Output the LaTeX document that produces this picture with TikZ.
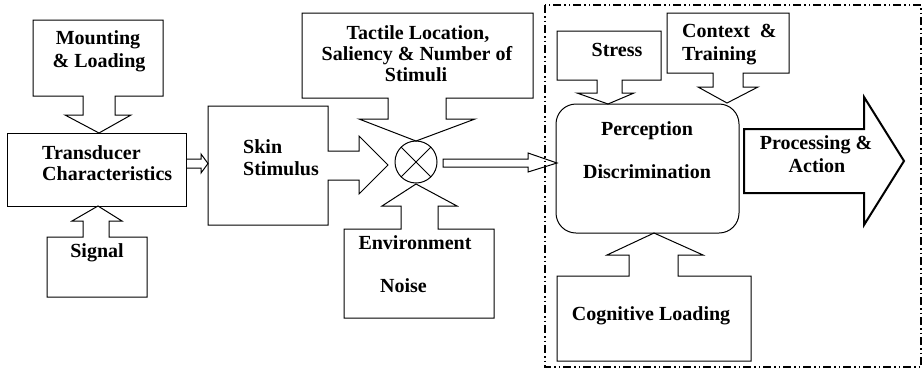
\documentclass[tikz,border=0pt]{standalone}
\usepackage{fontspec}
\setmainfont{Liberation Serif}
\begin{document}
\begin{tikzpicture}[x=1pt,y=-1pt,line join=miter,
  shapeline/.style={draw=black,line width=1pt},
  thickarrow/.style={draw=black,line width=2pt},
  groupbox/.style={draw=black,line width=1.3pt,dash pattern=on 8pt off 3pt on 1.5pt off 3pt on 1.5pt off 3pt},
  lbl/.style={inner sep=0pt,font=\fontsize{20}{22}\selectfont\bfseries}]
\useasboundingbox (0,0) rectangle (923,370);
% Mounting & Loading (down callout)
\draw[shapeline] (33,20) -- (163,20) -- (163,96) -- (115,96) -- (115,115) -- (131,115) -- (99,133) -- (65,115) -- (83,115) -- (83,96) -- (33,96) -- cycle;
\node[lbl,anchor=base] (mount1) at (98,44) {Mounting};
\node[lbl,anchor=base] (mount2) at (99,67) {\& Loading};
% Transducer
\draw[shapeline] (7,133) rectangle (186,206);
\node[lbl,anchor=base west] (trans1) at (42,159) {Transducer};
\node[lbl,anchor=base west] (trans2) at (42,180) {Characteristics};
% Signal (up callout)
\draw[shapeline] (47,237) -- (83,237) -- (83,221) -- (72,221) -- (98,206) -- (122,221) -- (109,221) -- (109,237) -- (147,237) -- (147,297) -- (47,297) -- cycle;
\node[lbl,anchor=base] (signal) at (97,257) {Signal};
% small arrow transducer -> skin
\draw[shapeline] (186,159) -- (201,159) -- (201,154) -- (208,163.5) -- (201,173) -- (201,168) -- (186,168);
% Skin Stimulus (right callout)
\draw[shapeline] (208,106) -- (328,106) -- (328,151) -- (359,151) -- (359,136) -- (388,165) -- (359,194) -- (359,180) -- (328,180) -- (328,225) -- (208,225) -- cycle;
\node[lbl,anchor=base west] (skin1) at (243,153) {Skin};
\node[lbl,anchor=base west] (skin2) at (243,175) {Stimulus};
% Tactile (down callout)
\draw[shapeline] (302,13) -- (533,13) -- (533,98) -- (446,98) -- (446,119) -- (475,119) -- (416,141) -- (359,119) -- (388,119) -- (388,98) -- (302,98) -- cycle;
\node[lbl,anchor=base] (tact1) at (418,39) {Tactile Location,};
\node[lbl,anchor=base] (tact2) at (417,60) {Saliency \& Number of};
\node[lbl,anchor=base] (tact3) at (416,81) {Stimuli};
% summing junction
\draw[shapeline] (416,162) circle (21);
\draw[shapeline] (416,162) ++(-14.8,-14.8) -- ++(29.7,29.7);
\draw[shapeline] (416,162) ++(14.8,-14.8) -- ++(-29.7,29.7);
% Environment Noise (up callout)
\draw[shapeline] (344,229) -- (401,229) -- (401,206) -- (382,206) -- (416,184) -- (457,206) -- (438,206) -- (438,229) -- (494,229) -- (494,318) -- (344,318) -- cycle;
\node[lbl,anchor=base] (env1) at (415,249) {Environment};
\node[lbl,anchor=base west] (env2) at (380,292) {Noise};
% arrow junction -> perception
\draw[shapeline] (443,159) -- (528,159) -- (528,153) -- (557,163) -- (528,172) -- (528,167) -- (443,167) -- cycle;
% dash-dot group
\draw[groupbox] (545,5) rectangle (921,367);
% Stress (down callout)
\draw[shapeline] (557,31) -- (661,31) -- (661,80) -- (622,80) -- (622,93) -- (634,93) -- (608,104) -- (577,93) -- (597,93) -- (597,80) -- (557,80) -- cycle;
\node[lbl,anchor=base] (stress) at (617,56) {Stress};
% Context & Training (down callout)
\draw[shapeline] (667,13) -- (789,13) -- (789,73) -- (743,73) -- (743,87) -- (758,87) -- (727,103) -- (698,87) -- (713,87) -- (713,73) -- (667,73) -- cycle;
\node[lbl,anchor=base west] (ctx1) at (682,37) {Context~~\&};
\node[lbl,anchor=base west] (ctx2) at (682,60) {Training};
% Perception
\draw[shapeline,rounded corners=20pt] (556,104) rectangle (739,233);
\node[lbl,anchor=base] (perc1) at (647,135) {Perception};
\node[lbl,anchor=base] (perc2) at (647,178) {Discrimination};
% Processing & Action
\draw[thickarrow] (744,129) -- (864,129) -- (864,97) -- (904,161) -- (864,225) -- (864,193) -- (744,193) -- cycle;
\node[lbl,anchor=base] (proc1) at (816,149) {Processing \&};
\node[lbl,anchor=base] (proc2) at (817,172) {Action};
% Cognitive Loading (up callout)
\draw[shapeline] (557,276) -- (629,276) -- (629,255) -- (607,255) -- (654,233) -- (703,255) -- (678,255) -- (678,276) -- (751,276) -- (751,361) -- (557,361) -- cycle;
\node[lbl,anchor=base] (cog) at (651,320) {Cognitive Loading};
\end{tikzpicture}
\end{document}
